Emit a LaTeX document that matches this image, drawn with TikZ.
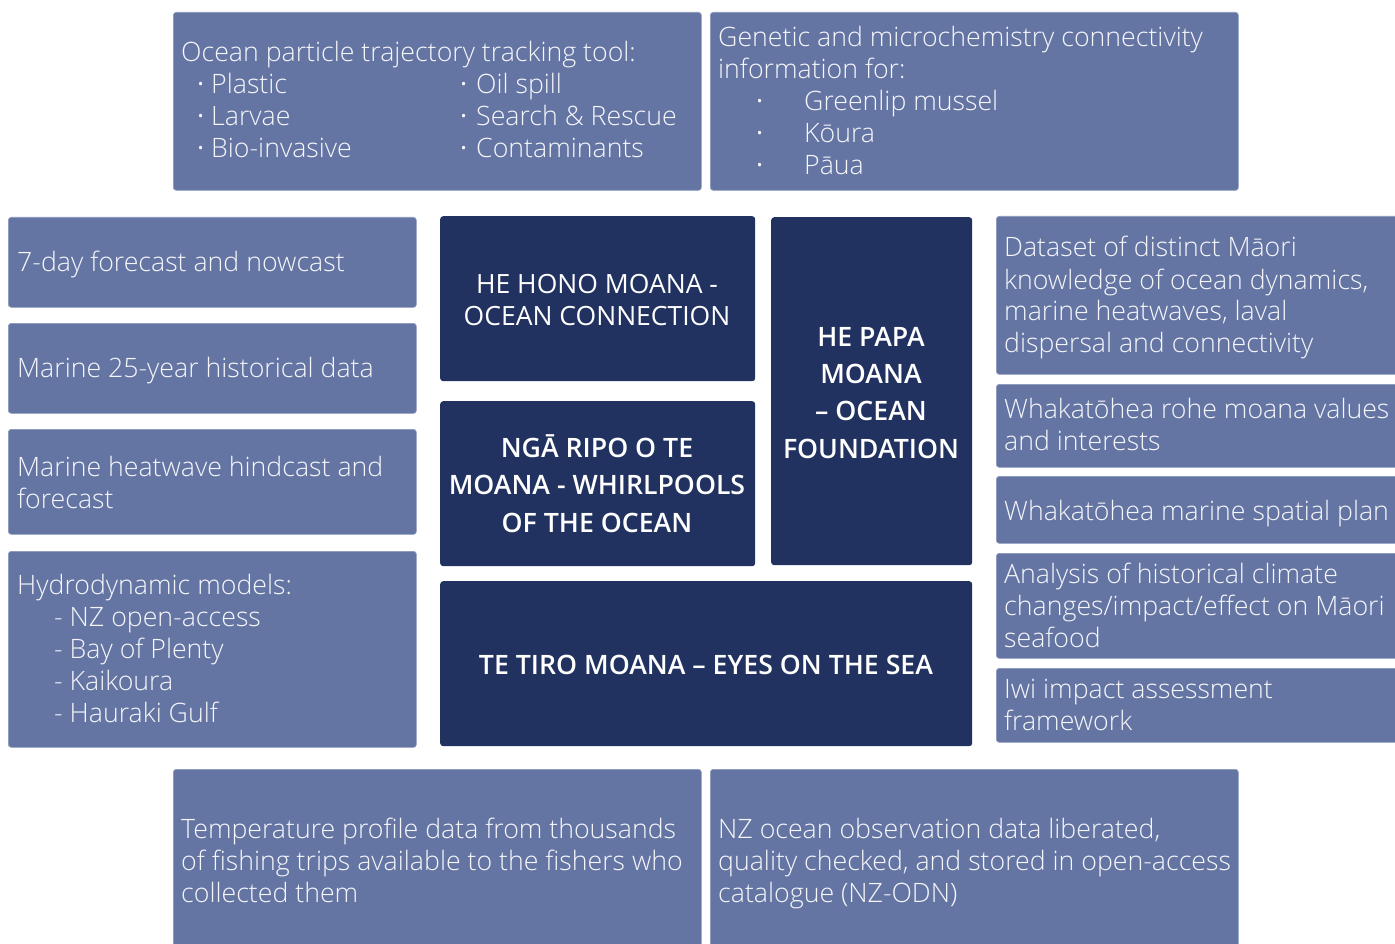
\documentclass[tikz,border=0pt]{standalone}
\usepackage{fontspec}
\setmainfont{Open Sans Light}[BoldFont={Open Sans Semibold}]
\newfontfamily\regf{Open Sans}
\definecolor{lightc}{RGB}{101,117,163}
\definecolor{lightedge}{RGB}{140,152,190}
\definecolor{darkc}{RGB}{33,50,96}
\definecolor{txtc}{RGB}{245,246,250}
\tikzset{
  lbox/.style={fill=lightc, draw=lightedge, line width=0.7pt, rounded corners=3pt, inner sep=0pt, anchor=north west},
  dbox/.style={fill=darkc, draw=none, rounded corners=3pt, inner sep=0pt, anchor=north west},
  txt/.style={text=txtc, anchor=base west, inner sep=0pt, font=\fontsize{26.7}{32}\selectfont},
  bul/.style={text=txtc, anchor=base west, inner sep=0pt, font=\regf\fontsize{26.7}{32}\selectfont},
  ctxt/.style={text=white, anchor=base, inner sep=0pt, font=\regf\fontsize{26.5}{32}\selectfont},
  btxt/.style={text=white, anchor=base, inner sep=0pt, font=\bfseries\fontsize{26.7}{32}\selectfont},
}
\begin{document}
\begin{tikzpicture}[x=1pt,y=-1pt]
\clip (0,0) rectangle (1395,944);
\fill[white] (0,0) rectangle (1395,944);
% top boxes
\node[lbox, minimum width=528, minimum height=178] (tl) at (173,12) {};
\node[lbox, minimum width=528, minimum height=178] (tr) at (710,12) {};
% left column
\node[lbox, minimum width=408, minimum height=90] (l1) at (8,217) {};
\node[lbox, minimum width=408, minimum height=90] (l2) at (8,323) {};
\node[lbox, minimum width=408, minimum height=105] (l3) at (8,429) {};
\node[lbox, minimum width=408, minimum height=196] (l4) at (8,551) {};
% centre
\node[dbox, minimum width=315, minimum height=165] (c1) at (440,216) {};
\node[dbox, minimum width=315, minimum height=165] (c2) at (440,401) {};
\node[dbox, minimum width=201, minimum height=348] (c3) at (771,217) {};
\node[dbox, minimum width=532, minimum height=165] (c4) at (440,581) {};
% right column
\node[lbox, minimum width=410, minimum height=158] (r1) at (996,216) {};
\node[lbox, minimum width=410, minimum height=83] (r2) at (996,384) {};
\node[lbox, minimum width=410, minimum height=67] (r3) at (996,476) {};
\node[lbox, minimum width=410, minimum height=105] (r4) at (996,553) {};
\node[lbox, minimum width=410, minimum height=74] (r5) at (996,668) {};
% bottom
\node[lbox, minimum width=528, minimum height=190] (b1) at (173,769) {};
\node[lbox, minimum width=528, minimum height=190] (b2) at (710,769) {};

% top-left text
\node[txt] (tl0) at (181,62) {Ocean particle trajectory tracking tool:};
\node[bul] (tla) at (197,94) {·};  \node[txt] (tlb) at (211,94) {Plastic};
\node[bul] (tlc) at (197,126) {·}; \node[txt] (tld) at (211,126) {Larvae};
\node[bul] (tle) at (197,158) {·}; \node[txt] (tlf) at (211,158) {Bio-invasive};
\node[bul] (tlg) at (460,94) {·};  \node[txt] (tlh) at (476,94) {Oil spill};
\node[bul] (tli) at (460,126) {·}; \node[txt] (tlj) at (476,126) {Search \& Rescue};
\node[bul] (tlk) at (460,158) {·}; \node[txt] (tll) at (476,158) {Contaminants};
% top-right text
\node[txt] (tr0) at (718,47) {Genetic and microchemistry connectivity};
\node[txt] (tr1) at (718,79) {information for:};
\node[bul] (tra) at (756,111) {·}; \node[txt] (trb) at (804,111) {Greenlip mussel};
\node[bul] (trc) at (756,143) {·}; \node[txt] (trd) at (804,143) {Kōura};
\node[bul] (tre) at (756,175) {·}; \node[txt] (trf) at (804,175) {Pāua};
% left column text
\node[txt] (l1t) at (17,272) {7-day forecast and nowcast};
\node[txt] (l2t) at (17,377) {Marine 25-year historical data};
\node[txt] (l3a) at (17,476) {Marine heatwave hindcast and};
\node[txt] (l3b) at (17,508) {forecast};
\node[txt] (l4a) at (17,594) {Hydrodynamic models:};
\node[txt] (l4b) at (54,626) {- NZ open-access};
\node[txt] (l4c) at (54,658) {- Bay of Plenty};
\node[txt] (l4d) at (54,690) {- Kaikoura};
\node[txt] (l4e) at (54,722) {- Hauraki Gulf};
% centre text
\node[ctxt] (c1a) at (597,293) {HE HONO MOANA -};
\node[ctxt] (c1b) at (597,325) {OCEAN CONNECTION};
\node[btxt] (c2a) at (597,457) {NGĀ RIPO O TE};
\node[btxt] (c2b) at (597,494) {MOANA - WHIRLPOOLS};
\node[btxt] (c2c) at (597,532) {OF THE OCEAN};
\node[btxt] (c3a) at (871,346) {HE PAPA};
\node[btxt] (c3b) at (871,383) {MOANA};
\node[btxt] (c3c) at (871,420) {– OCEAN};
\node[btxt] (c3d) at (871,458) {FOUNDATION};
\node[btxt] (c4a) at (706,674) {TE TIRO MOANA – EYES ON THE SEA};
% right column text
\node[txt] (r1a) at (1004,257) {Dataset of distinct Māori};
\node[txt] (r1b) at (1004,289) {knowledge of ocean dynamics,};
\node[txt] (r1c) at (1004,320) {marine heatwaves, laval};
\node[txt] (r1d) at (1004,352) {dispersal and connectivity};
\node[txt] (r2a) at (1004,418) {Whakatōhea rohe moana values};
\node[txt] (r2b) at (1004,450) {and interests};
\node[txt] (r3a) at (1004,520) {Whakatōhea marine spatial plan};
\node[txt] (r4a) at (1004,583) {Analysis of historical climate};
\node[txt] (r4b) at (1004,615) {changes/impact/effect on Māori};
\node[txt] (r4c) at (1004,647) {seafood};
\node[txt] (r5a) at (1004,698) {Iwi impact assessment};
\node[txt] (r5b) at (1004,730) {framework};
% bottom text
\node[txt] (b1a) at (181,838) {Temperature profile data from thousands};
\node[txt] (b1b) at (181,870) {of fishing trips available to the fishers who};
\node[txt] (b1c) at (181,902) {collected them};
\node[txt] (b2a) at (718,838) {NZ ocean observation data liberated,};
\node[txt] (b2b) at (718,870) {quality checked, and stored in open-access};
\node[txt] (b2c) at (718,902) {catalogue (NZ-ODN)};
\end{tikzpicture}
\end{document}
